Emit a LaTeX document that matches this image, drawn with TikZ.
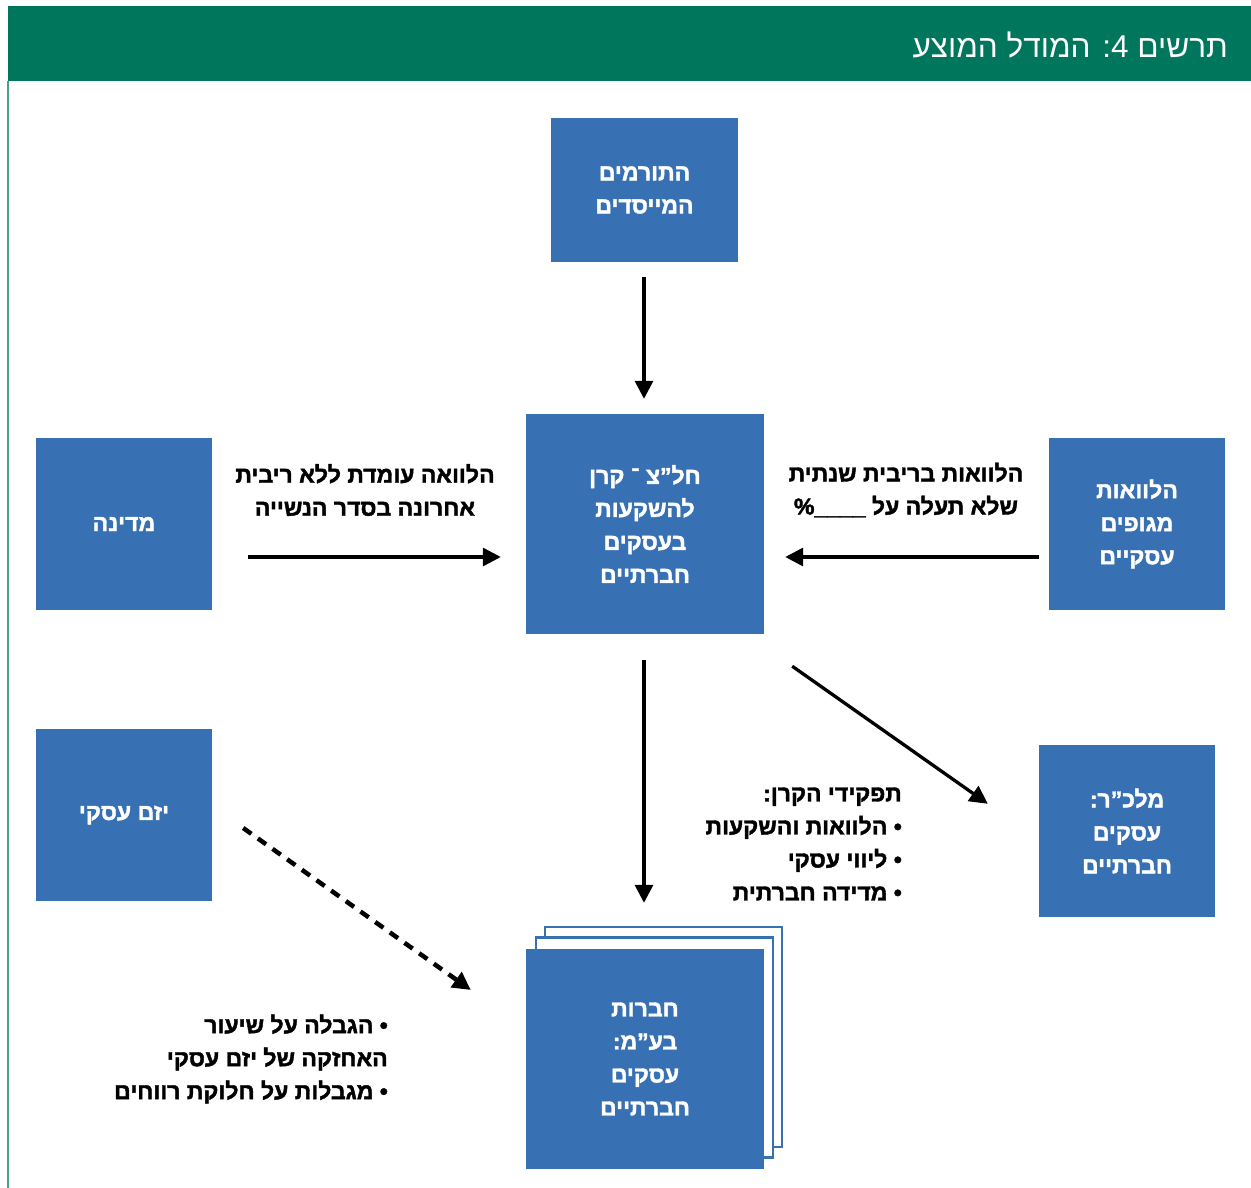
\documentclass[tikz,border=0pt]{standalone}
\usepackage{fontspec}
\usetikzlibrary{arrows.meta}
\TeXXeTstate=1
\newfontfamily\hebfont[Script=Hebrew, BoldFeatures={FakeBold=1.8}]{Liberation Sans}
\newcommand\heb[1]{\beginR#1\endR}
\definecolor{hdrgreen}{RGB}{0,118,92}
\definecolor{sidegreen}{RGB}{77,160,140}
\definecolor{boxblue}{RGB}{55,112,179}
\tikzset{
  box/.style={fill=boxblue, draw=none, inner sep=0pt, align=center, text=white,
    font=\hebfont\bfseries\fontsize{23}{33}\selectfont},
  backbox/.style={fill=white, draw=boxblue, line width=2.5pt, inner sep=0pt},
  lbl/.style={inner sep=0pt, text=black, font=\hebfont\bfseries\fontsize{23}{33}\selectfont},
  arr/.style={line width=3.3pt, -{Triangle[length=18pt,width=18pt]}},
  darr/.style={line width=4.5pt, dash pattern=on 10pt off 8pt, -{Triangle[length=18pt,width=18pt]}}
}
\begin{document}
\begin{tikzpicture}[x=1pt,y=-1pt]
\useasboundingbox (0,0) rectangle (1251,1188);
\fill[white] (0,0) rectangle (1251,1188);
\fill[hdrgreen] (8,6) rectangle (1251,81);
\draw[sidegreen, line width=2pt] (8,81) -- (8,1188);
\node[anchor=east, inner sep=0pt, text=white, font=\hebfont\fontsize{31.5}{36}\selectfont] (title) at (1228,45) {\heb{תרשים 4: המודל המוצע}};

\node[box, minimum width=187pt, minimum height=144pt] (donors) at (644.5,190) {\heb{התורמים}\\\heb{המייסדים}};
\node[box, minimum width=238pt, minimum height=220pt] (center) at (645,524) {\heb{חל”צ ־ קרן}\\\heb{להשקעות}\\\heb{בעסקים}\\\heb{חברתיים}};
\node[box, minimum width=176pt, minimum height=172pt] (state) at (124,524) {\heb{מדינה}};
\node[box, minimum width=176pt, minimum height=172pt] (loans) at (1137,524) {\heb{הלוואות}\\\heb{מגופים}\\\heb{עסקיים}};
\node[box, minimum width=176pt, minimum height=172pt] (entre) at (124,815) {\heb{יזם עסקי}};
\node[box, minimum width=176pt, minimum height=172pt] (npo) at (1127,831) {\heb{מלכ”ר:}\\\heb{עסקים}\\\heb{חברתיים}};

\node[backbox, minimum width=237pt, minimum height=220pt] (back2) at (663.5,1037) {};
\node[backbox, minimum width=237pt, minimum height=220pt] (back1) at (654.5,1047.5) {};
\node[box, minimum width=238pt, minimum height=220pt] (front) at (645,1059) {\heb{חברות}\\\heb{בע”מ:}\\\heb{עסקים}\\\heb{חברתיים}};

\node[lbl, align=center] (lblstate) at (365,490) {\heb{הלוואה עומדת ללא ריבית}\\\heb{אחרונה בסדר הנשייה}};
\node[lbl, align=center] (lblloans) at (906,490) {\heb{הלוואות בריבית שנתית}\\\heb{שלא תעלה על \_\_\_\_\%}};
\node[lbl, align=right, anchor=east] (roles) at (902,844) {\heb{תפקידי הקרן:}\\\heb{• הלוואות והשקעות}\\\heb{• ליווי עסקי}\\\heb{• מדידה חברתית}};
\node[lbl, align=right, anchor=east] (limits) at (388,1059) {\heb{• הגבלה על שיעור}\\\heb{האחזקה של יזם עסקי}\\\heb{• מגבלות על חלוקת רווחים}};

\draw[arr, shorten <=15pt, shorten >=15pt] ([xshift=-0.5pt]donors.south) -- ([xshift=-1pt]center.north);
\draw[arr, shorten <=36pt, shorten >=25pt] ([yshift=-33pt]state.east) -- ([yshift=-33pt]center.west);
\draw[arr, shorten <=10pt, shorten >=21pt] ([yshift=-33pt]loans.west) -- ([yshift=-33pt]center.east);
\draw[arr, shorten <=26pt, shorten >=46pt] ([xshift=-1pt]center.south) -- ([xshift=-1pt]front.north);
\draw[arr] ([shift={(28,32)}]center.south east) -- ([shift={(-51,59)}]npo.north west);
\draw[darr] ([shift={(31,13)}]entre.east) -- ([shift={(-55,-69)}]front.west);
\end{tikzpicture}
\end{document}
